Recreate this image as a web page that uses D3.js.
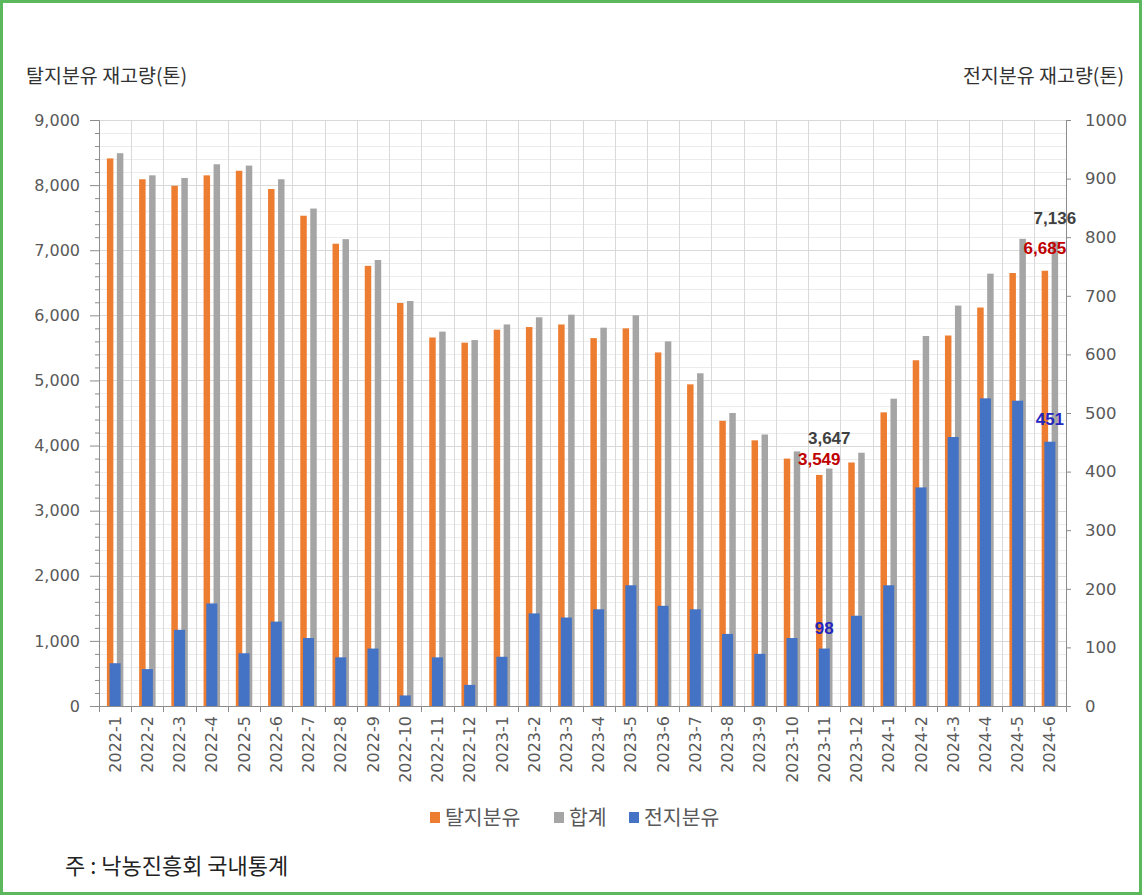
<!DOCTYPE html>
<html>
<head>
<meta charset="utf-8">
<script src="https://cdn.jsdelivr.net/npm/d3@7"></script>
<style>
  body { margin: 0; background: #fff; overflow: hidden; }
  svg { display: block; }
  text { font-family: "Noto Sans CJK KR", "Noto Sans", sans-serif; }
</style>
</head>
<body>
<script>
var width = 1142;
var height = 895;

// 월별 재고량 (톤)
var months = ["2022-1","2022-2","2022-3","2022-4","2022-5","2022-6","2022-7","2022-8","2022-9","2022-10","2022-11","2022-12",
  "2023-1","2023-2","2023-3","2023-4","2023-5","2023-6","2023-7","2023-8","2023-9","2023-10","2023-11","2023-12",
  "2024-1","2024-2","2024-3","2024-4","2024-5","2024-6"];
var skimMilk = [8410, 8090, 7990, 8150, 8220, 7940, 7530, 7100, 6760, 6190, 5660, 5580,
  5780, 5820, 5860, 5650, 5800, 5430, 4940, 4380, 4080, 3800, 3549, 3740,
  4510, 5310, 5690, 6120, 6650, 6685];
var totalMilk = [8490, 8150, 8110, 8320, 8300, 8090, 7640, 7170, 6850, 6220, 5750, 5620,
  5860, 5970, 6010, 5810, 6000, 5600, 5110, 4500, 4170, 3910, 3647, 3890,
  4720, 5683, 6150, 6640, 7175, 7136];
var wholeMilk = [73, 63, 130, 175, 90, 144, 116, 83, 98, 18, 83, 36,
  84, 158, 151, 165, 206, 171, 165, 123, 89, 116, 98, 154,
  206, 373, 459, 525, 521, 451];
var leftTicks = [0, 1000, 2000, 3000, 4000, 5000, 6000, 7000, 8000, 9000];
var rightTicks = [0, 100, 200, 300, 400, 500, 600, 700, 800, 900, 1000];
var seriesNames = ["탈지분유", "합계", "전지분유"];
var labelMonths = ["2023-11", "2024-6"];

var colors = { "탈지분유": "#ED7D31", "합계": "#A5A5A5", "전지분유": "#4472C4" };

var rows = months.map(function(m, i) {
  return { month: m, skim: skimMilk[i], total: totalMilk[i], whole: wholeMilk[i] };
});

var svg = d3.select("body").append("svg")
  .attr("width", width)
  .attr("height", height);

svg.append("rect")
  .attr("x", 1.5).attr("y", 1.5)
  .attr("width", width - 3).attr("height", height - 3)
  .attr("fill", "#fff")
  .attr("stroke", "#5cb85c")
  .attr("stroke-width", 3);

var plot = { left: 99, right: 1066, top: 120, bottom: 706 };

var x = d3.scaleBand().domain(months).range([plot.left, plot.right]);
var xPair = d3.scaleBand().domain(["탈지분유", "합계"])
  .range([0, x.bandwidth()]).paddingInner(0.35).paddingOuter(0.79);
var xWhole = d3.scaleBand().domain(["전지분유"])
  .range([0, x.bandwidth()]).paddingOuter(0.96);
var yLeft = d3.scaleLinear().domain([0, 9000]).range([plot.bottom, plot.top]);
var yRight = d3.scaleLinear().domain([0, 1000]).range([plot.bottom, plot.top]);

// grid
var minorTicks = d3.range(0, 9001, 200).filter(function(v) { return v % 1000 !== 0; });
svg.append("g").selectAll("line")
  .data(minorTicks)
  .enter().append("line")
  .attr("x1", plot.left).attr("x2", plot.right)
  .attr("y1", function(d) { return Math.round(yLeft(d)) + 0.5; })
  .attr("y2", function(d) { return Math.round(yLeft(d)) + 0.5; })
  .attr("stroke", "#ececec");
svg.append("g").selectAll("line")
  .data(leftTicks.slice(1))
  .enter().append("line")
  .attr("x1", plot.left).attr("x2", plot.right)
  .attr("y1", function(d) { return Math.round(yLeft(d)) + 0.5; })
  .attr("y2", function(d) { return Math.round(yLeft(d)) + 0.5; })
  .attr("stroke", "#d9d9d9");
svg.append("g").selectAll("line")
  .data(months.slice(1))
  .enter().append("line")
  .attr("x1", function(d) { return Math.round(x(d)) + 0.5; })
  .attr("x2", function(d) { return Math.round(x(d)) + 0.5; })
  .attr("y1", plot.top).attr("y2", plot.bottom)
  .attr("stroke", "#d9d9d9");

// bars
var barG = svg.append("g");
barG.selectAll(".skim").data(rows).enter().append("rect")
  .attr("x", function(d) { return x(d.month) + xPair("탈지분유"); })
  .attr("width", xPair.bandwidth())
  .attr("y", function(d) { return yLeft(d.skim); })
  .attr("height", function(d) { return plot.bottom - yLeft(d.skim); })
  .attr("fill", colors["탈지분유"]);
barG.selectAll(".total").data(rows).enter().append("rect")
  .attr("x", function(d) { return x(d.month) + xPair("합계"); })
  .attr("width", xPair.bandwidth())
  .attr("y", function(d) { return yLeft(d.total); })
  .attr("height", function(d) { return plot.bottom - yLeft(d.total); })
  .attr("fill", colors["합계"]);
barG.selectAll(".whole").data(rows).enter().append("rect")
  .attr("x", function(d) { return x(d.month) + xWhole("전지분유"); })
  .attr("width", xWhole.bandwidth())
  .attr("y", function(d) { return yRight(d.whole); })
  .attr("height", function(d) { return plot.bottom - yRight(d.whole); })
  .attr("fill", colors["전지분유"]);

// axes
var axisColor = "#8c8c8c";
var tickColor = "#595959";

var leftAxis = svg.append("g")
  .attr("transform", "translate(" + plot.left + ",0)")
  .call(d3.axisLeft(yLeft).tickValues(leftTicks).tickSize(9).tickPadding(10)
    .tickFormat(d3.format(",")));
var leftMinor = svg.append("g")
  .attr("transform", "translate(" + plot.left + ",0)")
  .call(d3.axisLeft(yLeft).tickValues(minorTicks).tickSize(4).tickFormat(""));
leftMinor.select(".domain").remove();

var rightAxis = svg.append("g")
  .attr("transform", "translate(" + plot.right + ",0)")
  .call(d3.axisRight(yRight).tickValues(rightTicks).tickSize(5).tickFormat(""));
// right tick labels drawn as plain text
svg.append("g").selectAll("text")
  .data(rightTicks)
  .enter().append("text")
  .attr("x", plot.right + 19)
  .attr("y", function(d) { return yRight(d); })
  .attr("dy", "0.35em")
  .attr("text-anchor", "start")
  .attr("fill", tickColor)
  .style("font-family", "'DejaVu Sans', sans-serif")
  .style("font-size", "16.5px")
  .text(function(d) { return d; });

var bottomAxis = svg.append("g")
  .attr("transform", "translate(0," + plot.bottom + ")")
  .call(d3.axisBottom(x).tickSize(0).tickPadding(10));
bottomAxis.selectAll(".tick text")
  .attr("transform", "rotate(-90)")
  .attr("text-anchor", "end")
  .attr("x", -10).attr("y", 0).attr("dy", "0.35em");
// boundary ticks
svg.append("g").selectAll("line")
  .data(months.concat(["end"]))
  .enter().append("line")
  .attr("x1", function(d, i) { return Math.round(plot.left + i * x.step()) + 0.5; })
  .attr("x2", function(d, i) { return Math.round(plot.left + i * x.step()) + 0.5; })
  .attr("y1", plot.bottom).attr("y2", plot.bottom + 6)
  .attr("stroke", axisColor);

[leftAxis, leftMinor, rightAxis, bottomAxis].forEach(function(g) {
  g.selectAll(".domain").attr("stroke", axisColor);
  g.selectAll(".tick line").attr("stroke", axisColor);
  g.selectAll(".tick text")
    .attr("fill", tickColor)
    .style("font-family", "'DejaVu Sans', sans-serif")
    .style("font-size", "16px");
});

// axis titles
svg.append("text")
  .attr("x", 26).attr("y", 83)
  .attr("fill", "#333")
  .style("font-size", "19.5px")
  .text("탈지분유 재고량(톤)");
svg.append("text")
  .attr("x", 1124).attr("y", 83)
  .attr("text-anchor", "end")
  .attr("fill", "#333")
  .style("font-size", "19.5px")
  .text("전지분유 재고량(톤)");

// data labels
var labelStyle = {
  "탈지분유": { color: "#c00000", key: "skim" },
  "합계": { color: "#404040", key: "total" },
  "전지분유": { color: "#2525c0", key: "whole" }
};
var labelOffset = {
  "2023-11|합계": -25, "2023-11|탈지분유": -10, "2023-11|전지분유": -15
};
var labelData = [];
labelMonths.forEach(function(m) {
  seriesNames.forEach(function(s) {
    labelData.push({ month: m, series: s, row: rows[months.indexOf(m)] });
  });
});
svg.append("g").selectAll("text")
  .data(labelData)
  .enter().append("text")
  .attr("x", function(d) {
    if (d.series === "전지분유") return x(d.month) + xWhole(d.series) + xWhole.bandwidth() / 2;
    return x(d.month) + xPair(d.series) + xPair.bandwidth() / 2;
  })
  .attr("y", function(d) {
    var v = d.row[labelStyle[d.series].key];
    var yy = d.series === "전지분유" ? yRight(v) : yLeft(v);
    var off = labelOffset[d.month + "|" + d.series];
    return yy + (off === undefined ? -17 : off);
  })
  .attr("text-anchor", "middle")
  .attr("fill", function(d) { return labelStyle[d.series].color; })
  .style("font-family", "'Liberation Sans', Arial, sans-serif")
  .style("font-weight", "bold")
  .style("font-size", "17px")
  .text(function(d) { return d3.format(",")(d.row[labelStyle[d.series].key]); });

// legend
var legendX = [430, 554, 629];
var legend = svg.append("g").selectAll("g")
  .data(seriesNames)
  .enter().append("g")
  .attr("transform", function(d, i) { return "translate(" + legendX[i] + ",812)"; });
legend.append("rect")
  .attr("width", 10).attr("height", 11)
  .attr("fill", function(d) { return colors[d]; });
legend.append("text")
  .attr("x", 15).attr("y", 13)
  .attr("fill", "#595959")
  .style("font-size", "20.5px")
  .text(function(d) { return d; });

// footnote
svg.append("text")
  .attr("x", 65).attr("y", 874)
  .attr("fill", "#222")
  .style("font-size", "22px")
  .text("주 : 낙농진흥회 국내통계");
</script>
</body>
</html>
